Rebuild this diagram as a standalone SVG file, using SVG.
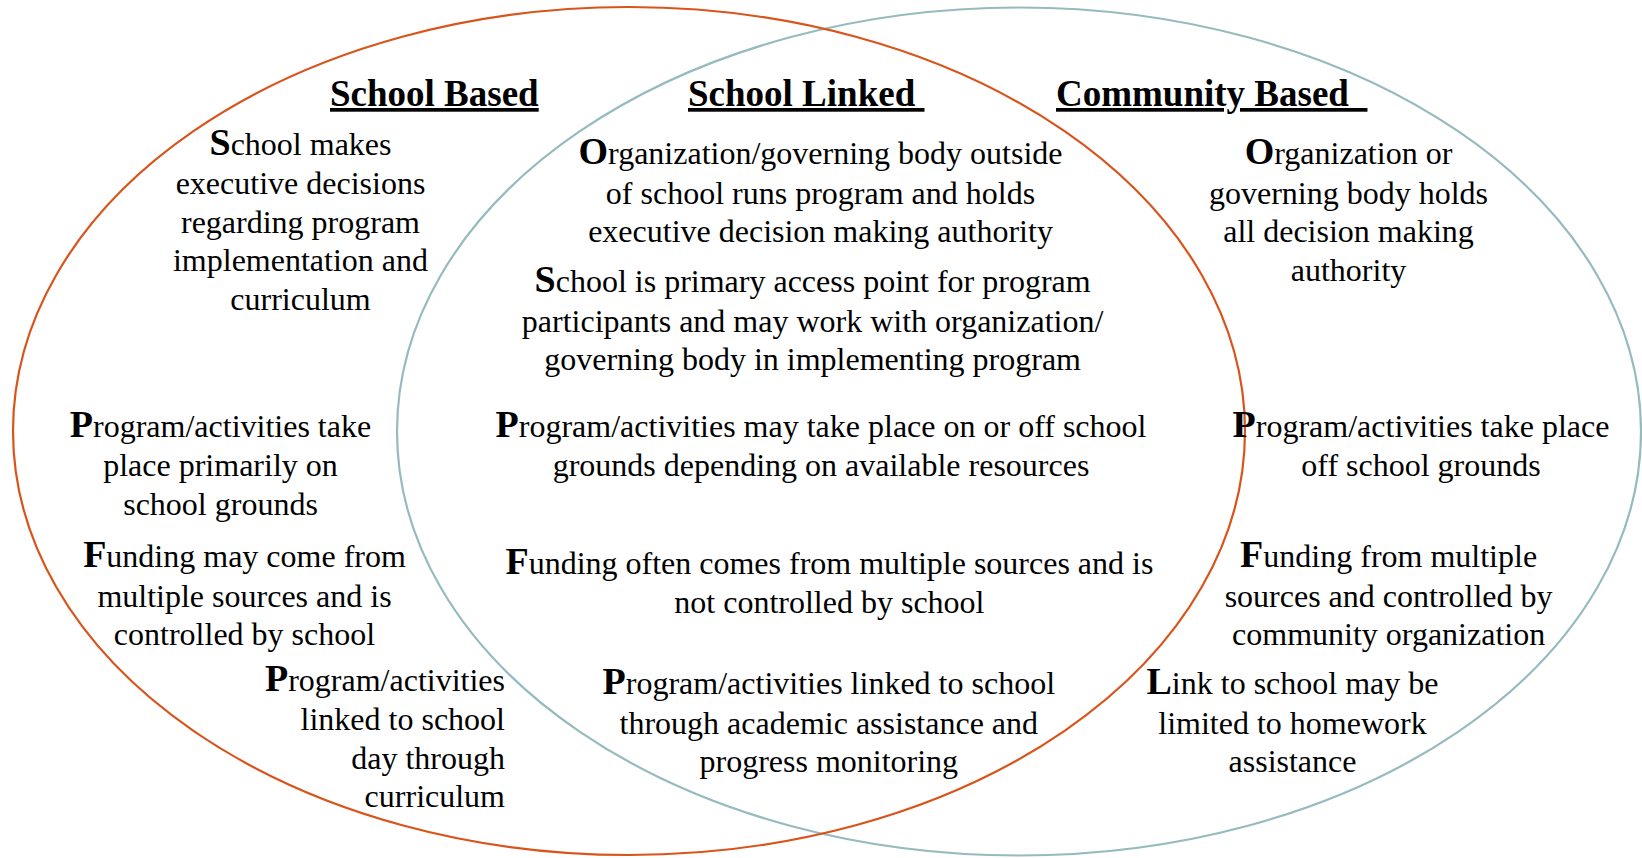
<svg xmlns="http://www.w3.org/2000/svg" width="1642" height="858" viewBox="0 0 1642 858">
<style>
.t{font-family:"Liberation Serif","Times New Roman",serif;font-size:32px;fill:#000;text-anchor:middle}
.e{text-anchor:end}
.b{font-weight:bold;font-size:38px}
.h{font-family:"Liberation Serif","Times New Roman",serif;font-size:37px;font-weight:bold;fill:#000;text-decoration:underline;white-space:pre}
</style>
<rect width="1642" height="858" fill="#fff"/>
<g id="circles" fill="none" stroke-width="2.2">
<ellipse id="community-circle" cx="1019" cy="431.5" rx="622" ry="424" stroke="#96BBBE"/>
<ellipse id="school-circle" cx="629" cy="431" rx="616" ry="424" stroke="#D9541A"/>
</g>
<g id="headings">
<text class="h" x="330" y="106">School Based</text>
<text class="h" x="688" y="106" xml:space="preserve">School Linked </text>
<text class="h" x="1056" y="106" xml:space="preserve">Community Based  </text>
</g>
<g id="school-based">
<text class="t" x="300.5" y="155"><tspan class="b">S</tspan>chool makes<tspan x="300.5" dy="39">executive decisions</tspan><tspan x="300.5" dy="38.5">regarding program</tspan><tspan x="300.5" dy="38.5">implementation and</tspan><tspan x="300.5" dy="38.5">curriculum</tspan></text>
<text class="t" x="220.5" y="437"><tspan class="b">P</tspan>rogram/activities take<tspan x="220.5" dy="39">place primarily on</tspan><tspan x="220.5" dy="38.5">school grounds</tspan></text>
<text class="t" x="244.5" y="567"><tspan class="b">F</tspan>unding may come from<tspan x="244.5" dy="39.5">multiple sources and is</tspan><tspan x="244.5" dy="38.5">controlled by school</tspan></text>
<text class="t e" x="505" y="691"><tspan class="b">P</tspan>rogram/activities<tspan x="505" dy="39">linked to school</tspan><tspan x="505" dy="38.5">day through</tspan><tspan x="505" dy="38.5">curriculum</tspan></text>
</g>
<g id="school-linked">
<text class="t" x="820.5" y="164"><tspan class="b">O</tspan>rganization/governing body outside<tspan x="820.5" dy="39.5">of school runs program and holds</tspan><tspan x="820.5" dy="38.5">executive decision making authority</tspan></text>
<text class="t" x="812.6" y="292"><tspan class="b">S</tspan>chool is primary access point for program<tspan x="812.6" dy="39.5">participants and may work with organization/</tspan><tspan x="812.6" dy="38.5">governing body in implementing program</tspan></text>
<text class="t" x="821" y="437"><tspan class="b">P</tspan>rogram/activities may take place on or off school<tspan x="821" dy="39">grounds depending on available resources</tspan></text>
<text class="t" x="829.4" y="574"><tspan class="b">F</tspan>unding often comes from multiple sources and is<tspan x="829.4" dy="39">not controlled by school</tspan></text>
<text class="t" x="828.8" y="694"><tspan class="b">P</tspan>rogram/activities linked to school<tspan x="828.8" dy="39.5">through academic assistance and</tspan><tspan x="828.8" dy="38.5">progress monitoring</tspan></text>
</g>
<g id="community-based">
<text class="t" x="1348.5" y="164"><tspan class="b">O</tspan>rganization or<tspan x="1348.5" dy="39.5">governing body holds</tspan><tspan x="1348.5" dy="38">all decision making</tspan><tspan x="1348.5" dy="39">authority</tspan></text>
<text class="t" x="1421" y="437"><tspan class="b">P</tspan>rogram/activities take place<tspan x="1421" dy="39">off school grounds</tspan></text>
<text class="t" x="1388.6" y="567"><tspan class="b">F</tspan>unding from multiple<tspan x="1388.6" dy="39.5">sources and controlled by</tspan><tspan x="1388.6" dy="38.5">community organization</tspan></text>
<text class="t" x="1292.5" y="694"><tspan class="b">L</tspan>ink to school may be<tspan x="1292.5" dy="39.5">limited to homework</tspan><tspan x="1292.5" dy="38.5">assistance</tspan></text>
</g>
</svg>
